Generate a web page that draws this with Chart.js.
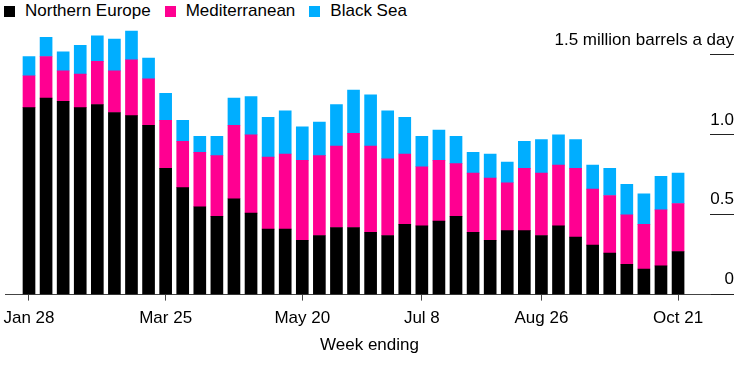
<!DOCTYPE html>
<html>
<head>
<meta charset="utf-8">
<script src="https://cdn.jsdelivr.net/npm/chart.js@4.4.0/dist/chart.umd.min.js"></script>
<style>
    body { margin: 0; background: #fff; }
    #wrap { position: relative; width: 742px; height: 367px; }
    #legend { position: absolute; top: 1px; left: 4px; display: flex; font: 17px 'Liberation Sans', Arial, sans-serif; color: #000; }
    #legend span.item { display: flex; align-items: center; margin-right: 14px; }
    #legend span.box { display: inline-block; width: 11px; height: 11px; margin-right: 10px; }
    canvas { position: absolute; top: 0; left: 0; }
</style>
</head>
<body>
<div id="wrap">
    <div id="legend"></div>
    <canvas id="chart" width="742" height="367"></canvas>
</div>
<script>
const weeks = ['Jan 28', 'Feb 4', 'Feb 11', 'Feb 18', 'Feb 25', 'Mar 4', 'Mar 11', 'Mar 18', 'Mar 25',
    'Apr 1', 'Apr 8', 'Apr 15', 'Apr 22', 'Apr 29', 'May 6', 'May 13', 'May 20', 'May 27',
    'Jun 3', 'Jun 10', 'Jun 17', 'Jun 24', 'Jul 1', 'Jul 8', 'Jul 15', 'Jul 22', 'Jul 29',
    'Aug 5', 'Aug 12', 'Aug 19', 'Aug 26', 'Sep 2', 'Sep 9', 'Sep 16', 'Sep 23', 'Sep 30',
    'Oct 7', 'Oct 14', 'Oct 21'];

// million barrels a day
const northernEurope = [1.17, 1.23, 1.21, 1.17, 1.19, 1.14, 1.12, 1.06, 0.79, 0.67,
    0.55, 0.49, 0.60, 0.51, 0.41, 0.41, 0.34, 0.37, 0.42, 0.42,
    0.39, 0.37, 0.44, 0.43, 0.46, 0.49, 0.39, 0.34, 0.40, 0.40,
    0.37, 0.43, 0.36, 0.31, 0.26, 0.19, 0.16, 0.18, 0.27];
const mediterranean = [0.20, 0.26, 0.19, 0.21, 0.27, 0.26, 0.35, 0.29, 0.30, 0.29,
    0.34, 0.38, 0.46, 0.49, 0.45, 0.47, 0.50, 0.50, 0.51, 0.59,
    0.54, 0.48, 0.44, 0.37, 0.38, 0.33, 0.37, 0.39, 0.30, 0.39,
    0.39, 0.38, 0.43, 0.35, 0.36, 0.31, 0.28, 0.35, 0.30];
const blackSea = [0.12, 0.12, 0.12, 0.18, 0.16, 0.20, 0.18, 0.13, 0.17, 0.13,
    0.10, 0.12, 0.17, 0.24, 0.25, 0.27, 0.21, 0.21, 0.26, 0.27,
    0.32, 0.30, 0.23, 0.19, 0.19, 0.17, 0.13, 0.15, 0.13, 0.17,
    0.21, 0.19, 0.18, 0.15, 0.17, 0.19, 0.19, 0.21, 0.19];

const seriesNames = ['Northern Europe', 'Mediterranean', 'Black Sea'];
const seriesColors = ['#000000', '#ff0091', '#00aeff'];

const xTickIdx = [0, 8, 16, 23, 30, 38];
const yTicks = [0, 0.5, 1, 1.5];
const yTickText = ['0', '0.5', '1.0', '1.5 million barrels a day'];

// html legend
const legend = document.getElementById('legend');
seriesNames.forEach((name, i) => {
    const item = document.createElement('span');
    item.className = 'item';
    item.innerHTML = '<span class="box" style="background:' + seriesColors[i] + '"></span>' + name;
    legend.appendChild(item);
});

Chart.defaults.font.family = "'Liberation Sans', Arial, sans-serif";
Chart.defaults.color = '#000';

const toPoints = (arr) => arr.map((v, i) => ({ x: i, y: v }));

const ctx = document.getElementById('chart').getContext('2d');
new Chart(ctx, {
    type: 'bar',
    data: {
        datasets: [northernEurope, mediterranean, blackSea].map((arr, i) => ({
            label: seriesNames[i],
            data: toPoints(arr),
            backgroundColor: seriesColors[i],
            barThickness: 12
        }))
    },
    options: {
        responsive: false,
        animation: false,
        layout: { padding: { top: 15, right: 8, left: 5, bottom: 0 } },
        plugins: {
            legend: { display: false },
            tooltip: { enabled: false },
            title: {
                display: true,
                position: 'bottom',
                text: 'Week ending',
                color: '#000',
                font: { size: 17, weight: 'normal', lineHeight: 1 },
                padding: { top: 0, bottom: 13 }
            }
        },
        scales: {
            x: {
                type: 'linear',
                stacked: true,
                offset: false,
                bounds: 'data',
                min: -1.405,
                max: 39.87,
                afterBuildTicks: (scale) => {
                    scale.ticks = xTickIdx.map(v => ({ value: v }));
                },
                afterFit: (scale) => {
                    scale.paddingLeft = 0;
                    scale.paddingRight = 0;
                },
                ticks: {
                    autoSkip: false,
                    maxRotation: 0,
                    padding: 8,
                    font: { size: 17 },
                    callback: (v) => weeks[v]
                },
                grid: { offset: false, drawOnChartArea: false, drawTicks: true, tickLength: 6, color: '#444' },
                border: { display: true, color: '#444', width: 1 }
            },
            y: {
                position: 'right',
                stacked: true,
                min: 0,
                max: 1.75,
                afterBuildTicks: (scale) => {
                    scale.ticks = yTicks.map(v => ({ value: v }));
                },
                afterFit: (scale) => {
                    scale.width = 24;
                    scale.paddingTop = 0;
                    scale.paddingBottom = 0;
                },
                ticks: {
                    mirror: true,
                    labelOffset: -15,
                    padding: 24,
                    font: { size: 17 },
                    callback: (v) => yTickText[yTicks.indexOf(v)]
                },
                grid: { drawOnChartArea: false, drawTicks: true, tickLength: 24, color: '#222' },
                border: { display: false }
            }
        }
    }
});
</script>
</body>
</html>
